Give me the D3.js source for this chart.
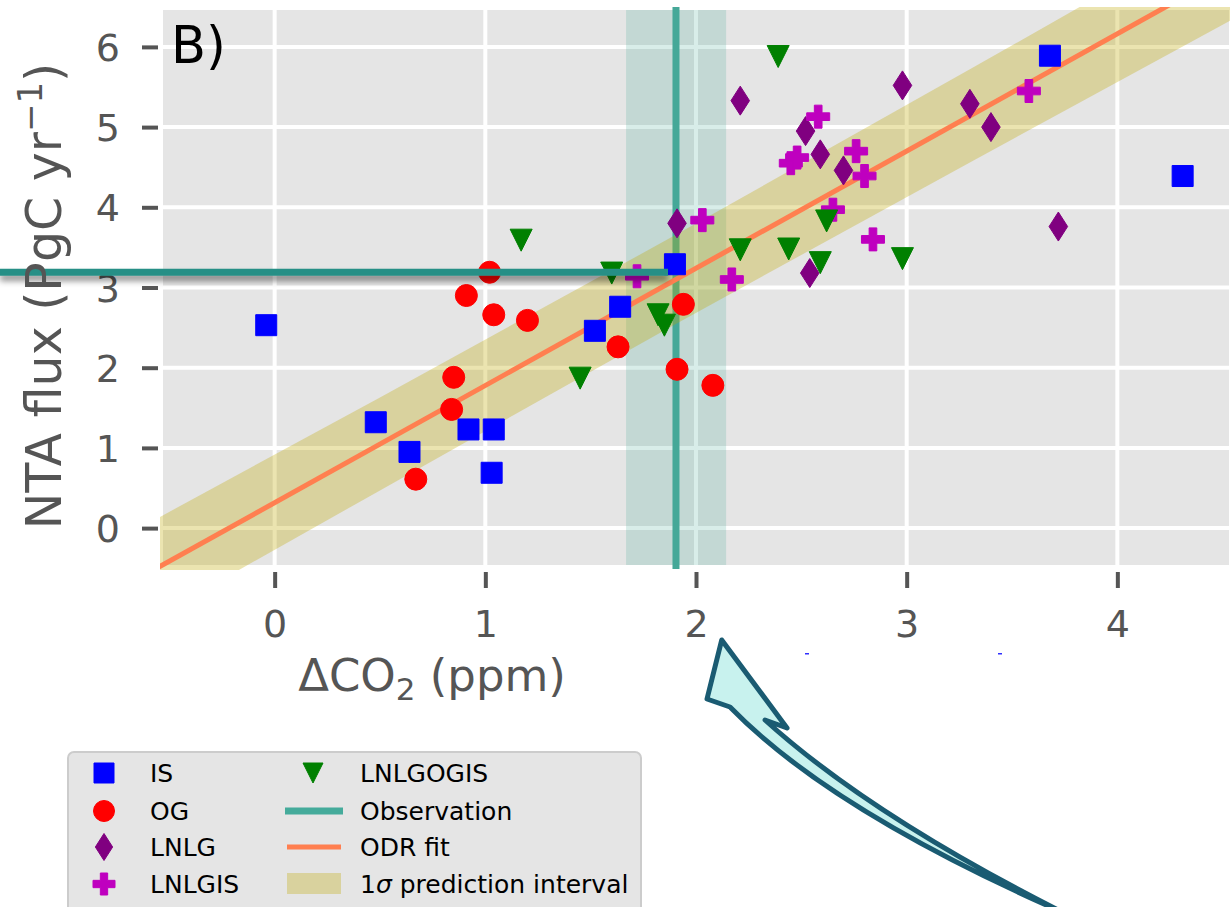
<!DOCTYPE html>
<html lang="en">
<head>
    <meta charset="UTF-8">
    <title>NTA flux vs delta CO2</title>
    <script src="https://d3js.org/d3.v7.min.js"></script>
    <style>
        body { margin: 0; background: #fff; }
        svg { display: block; font-family: "DejaVu Sans", sans-serif; }
    </style>
</head>
<body>
    <script>
        // data
        var xDomain = [-0.53, 4.53];
        var yDomain = [-0.46, 6.46];
        var xTicks = [0, 1, 2, 3, 4];
        var yTicks = [0, 1, 2, 3, 4, 5, 6];

        var isX = [-0.04, 0.48, 0.64, 0.92, 1.04, 1.03, 1.52, 1.64, 1.90, 3.68, 4.31];
        var isY = [2.53, 1.32, 0.95, 1.23, 1.23, 0.69, 2.46, 2.76, 3.29, 5.89, 4.39];

        var ogX = [0.91, 1.04, 1.20, 0.85, 0.84, 0.67, 1.63, 1.94, 1.91, 2.08, 1.02];
        var ogY = [2.90, 2.66, 2.59, 1.88, 1.48, 0.61, 2.26, 2.79, 1.98, 1.78, 3.19];

        var lnlgX = [2.21, 2.52, 2.59, 2.70, 2.98, 3.30, 3.40, 3.72, 1.91, 2.54];
        var lnlgY = [5.33, 4.95, 4.66, 4.46, 5.52, 5.29, 5.00, 3.76, 3.80, 3.18];

        var lnlgisX = [2.58, 2.45, 2.48, 2.76, 2.80, 2.65, 2.03, 2.84, 2.17, 1.72, 3.58];
        var lnlgisY = [5.13, 4.55, 4.62, 4.70, 4.39, 3.97, 3.84, 3.60, 3.10, 3.14, 5.45];

        var lnlgogisX = [2.39, 2.21, 2.44, 2.62, 2.59, 2.98, 1.60, 1.45, 1.82, 1.85, 1.17];
        var lnlgogisY = [5.88, 3.47, 3.48, 3.83, 3.31, 3.36, 3.18, 1.87, 2.66, 2.53, 3.59];

        // ODR fit and 1 sigma band
        var fitX = [-0.6, 4.6];
        var fitY = [-0.56, 7.04];
        var bandX = [-0.6, 0.5, 1.9, 3.3, 4.6];
        var bandLo = [-1.16, 0.47, 2.54, 4.56, 6.42];
        var bandHi = [0.06, 1.63, 3.65, 5.72, 7.66];

        // observation
        var obsX = 1.905;
        var obsXRange = [1.668, 2.143];
        var obsY = 3.19;

        var w = 1230, h = 907;
        var pLeft = 163, pRight = 1229, pTop = 10, pBottom = 565;

        var svg = d3.select("body").append("svg")
            .attr("width", w)
            .attr("height", h);

        var defs = svg.append("defs");
        defs.append("clipPath").attr("id", "clip")
            .append("rect")
            .attr("x", pLeft - 3).attr("y", pTop - 3)
            .attr("width", pRight - pLeft + 4).attr("height", pBottom - pTop + 8);
        var f = defs.append("filter").attr("id", "shadow")
            .attr("filterUnits", "userSpaceOnUse")
            .attr("x", -20).attr("y", 240).attr("width", 720).attr("height", 70);
        f.append("feDropShadow").attr("dx", 0).attr("dy", 5).attr("stdDeviation", 3)
            .attr("flood-color", "#000").attr("flood-opacity", 0.45);

        var x = d3.scaleLinear().domain(xDomain).range([pLeft, pRight]);
        var y = d3.scaleLinear().domain(yDomain).range([pBottom, pTop]);

        // plot background + grid
        svg.append("rect")
            .attr("x", pLeft).attr("y", pTop)
            .attr("width", pRight - pLeft).attr("height", pBottom - pTop)
            .attr("fill", "#e5e5e5");

        svg.selectAll(".gx").data(xTicks).enter().append("line")
            .attr("x1", d => x(d)).attr("x2", d => x(d))
            .attr("y1", pTop).attr("y2", pBottom)
            .attr("stroke", "#fff").attr("stroke-width", 4);
        svg.selectAll(".gy").data(yTicks).enter().append("line")
            .attr("x1", pLeft).attr("x2", pRight)
            .attr("y1", d => y(d)).attr("y2", d => y(d))
            .attr("stroke", "#fff").attr("stroke-width", 4);

        // axes
        var yAxis = svg.append("g")
            .attr("transform", "translate(158,0)")
            .call(d3.axisLeft(y).tickValues(yTicks).tickSize(16).tickPadding(22).tickFormat(d3.format("d")));
        var xAxis = svg.append("g")
            .attr("transform", "translate(0,572)")
            .call(d3.axisBottom(x).tickValues(xTicks).tickSize(16).tickFormat(d3.format("d")));
        [xAxis, yAxis].forEach(function(g) {
            g.select(".domain").remove();
            g.selectAll(".tick line").attr("stroke", "#555").attr("stroke-width", 4);
            g.selectAll(".tick text").attr("fill", "#555")
                .style("font-size", "38px").style("font-family", "DejaVu Sans");
        });
        xAxis.selectAll(".tick text").attr("y", 65).attr("dy", 0);
        yAxis.selectAll(".tick text").attr("dy", "0.36em");

        var plot = svg.append("g").attr("clip-path", "url(#clip)");

        // observation band and line
        plot.append("rect")
            .attr("x", x(obsXRange[0])).attr("y", pTop)
            .attr("width", x(obsXRange[1]) - x(obsXRange[0]))
            .attr("height", pBottom - pTop)
            .attr("fill", "#45a898").attr("fill-opacity", 0.21);
        plot.append("line")
            .attr("x1", x(obsX)).attr("x2", x(obsX))
            .attr("y1", pTop - 3).attr("y2", pBottom + 4)
            .attr("stroke", "#45a898").attr("stroke-width", 7);

        // prediction band
        var bandData = bandX.map((d, i) => ({x: d, lo: bandLo[i], hi: bandHi[i]}));
        plot.append("path")
            .datum(bandData)
            .attr("d", d3.area().x(d => x(d.x)).y0(d => y(d.lo)).y1(d => y(d.hi)))
            .attr("fill", "rgb(190,168,0)").attr("fill-opacity", 0.31);

        // fit line
        plot.append("path")
            .datum(fitX.map((d, i) => [d, fitY[i]]))
            .attr("d", d3.line().x(d => x(d[0])).y(d => y(d[1])))
            .attr("stroke", "#ff7f50").attr("stroke-width", 5).attr("fill", "none");

        // marker shapes
        function square(s) { var a = s / 2; return "M" + -a + "," + -a + "H" + a + "V" + a + "H" + -a + "Z"; }
        function circle(s) { var r = s / 2; return "M" + r + ",0A" + r + "," + r + " 0 1,1 " + -r + ",0A" + r + "," + r + " 0 1,1 " + r + ",0Z"; }
        function diamond(s) { var a = s * 0.32, b = s / 2; return "M0," + -b + "L" + a + ",0L0," + b + "L" + -a + ",0Z"; }
        function plus(s) {
            var a = s / 2, t = s / 6;
            return "M" + -t + "," + -a + "H" + t + "V" + -t + "H" + a + "V" + t + "H" + t + "V" + a +
                "H" + -t + "V" + t + "H" + -a + "V" + -t + "H" + -t + "Z";
        }
        function triDown(s) { var a = s / 2; return "M" + -a + "," + -a + "H" + a + "L0," + a + "Z"; }

        var series = [
            {name: "IS", xs: isX, ys: isY, color: "#0000ff", shape: square, size: 21},
            {name: "OG", xs: ogX, ys: ogY, color: "#ff0000", shape: circle, size: 22},
            {name: "LNLG", xs: lnlgX, ys: lnlgY, color: "#800080", shape: diamond, size: 29},
            {name: "LNLGIS", xs: lnlgisX, ys: lnlgisY, color: "#bf00bf", shape: plus, size: 23},
            {name: "LNLGOGIS", xs: lnlgogisX, ys: lnlgogisY, color: "#008000", shape: triDown, size: 22}
        ];

        series.forEach(function(s) {
            svg.append("g").selectAll("path")
                .data(s.xs.map((d, i) => [d, s.ys[i]]))
                .enter().append("path")
                .attr("transform", d => "translate(" + x(d[0]) + "," + y(d[1]) + ")")
                .attr("d", s.shape(s.size))
                .attr("fill", s.color)
                .attr("stroke", s.color).attr("stroke-width", 1)
                .attr("stroke-linejoin", "round");
        });

        // horizontal observation line reaching to the left edge (rect so the shadow filter has a box)
        svg.append("rect")
            .attr("x", 0).attr("y", y(obsY) - 3.5)
            .attr("width", x(obsX) - 8).attr("height", 7)
            .attr("fill", "#258f86")
            .attr("filter", "url(#shadow)");

        // panel label
        svg.append("text")
            .attr("x", 171).attr("y", 63)
            .style("font-size", "51px")
            .attr("fill", "#000")
            .text("B)");

        // axis labels
        var xl = svg.append("text")
            .attr("x", 432).attr("y", 691)
            .attr("text-anchor", "middle")
            .attr("fill", "#555")
            .style("font-size", "45px");
        xl.append("tspan").text("ΔCO");
        xl.append("tspan").attr("dy", 9).style("font-size", "31px").text("2");
        xl.append("tspan").attr("dy", -9).text(" (ppm)");

        var yl = svg.append("text")
            .attr("transform", "translate(61,296) rotate(-90)")
            .attr("text-anchor", "middle")
            .attr("fill", "#555")
            .style("font-size", "49px");
        yl.append("tspan").text("NTA flux (PgC yr");
        yl.append("tspan").attr("dy", -19).style("font-size", "34px").text("−1");
        yl.append("tspan").attr("dy", 19).text(")");

        // stray little marks below the axis
        svg.selectAll(".stray").data([807, 1000]).enter().append("rect")
            .attr("x", d => d - 2).attr("y", 653)
            .attr("width", 4).attr("height", 1.5)
            .attr("fill", "#3030ff");

        // legend
        var lg = svg.append("g");
        lg.append("rect")
            .attr("x", 68).attr("y", 752)
            .attr("width", 573).attr("height", 180)
            .attr("rx", 6)
            .attr("fill", "#e5e5e5").attr("stroke", "#cccccc").attr("stroke-width", 2);

        var rowY = [773, 811, 847, 884];
        series.slice(0, 4).forEach(function(s, i) {
            lg.append("path")
                .attr("transform", "translate(104," + rowY[i] + ")")
                .attr("d", s.shape(s.name === "LNLG" ? 27 : s.size - 1))
                .attr("fill", s.color).attr("stroke", s.color).attr("stroke-width", 1);
            lg.append("text")
                .attr("x", 150).attr("y", rowY[i] + 9)
                .style("font-size", "25px").attr("fill", "#000")
                .text(s.name);
        });

        var tri = series[4];
        lg.append("path")
            .attr("transform", "translate(313," + rowY[0] + ")")
            .attr("d", tri.shape(20))
            .attr("fill", tri.color).attr("stroke", tri.color).attr("stroke-width", 1);
        lg.append("line")
            .attr("x1", 285).attr("x2", 343).attr("y1", rowY[1]).attr("y2", rowY[1])
            .attr("stroke", "#45ab9b").attr("stroke-width", 7);
        lg.append("line")
            .attr("x1", 287).attr("x2", 341).attr("y1", rowY[2]).attr("y2", rowY[2])
            .attr("stroke", "#ff7f50").attr("stroke-width", 5);
        lg.append("rect")
            .attr("x", 287).attr("y", rowY[3] - 11).attr("width", 54).attr("height", 21)
            .attr("fill", "rgb(190,168,0)").attr("fill-opacity", 0.31);

        var col2 = ["LNLGOGIS", "Observation", "ODR fit"];
        col2.forEach(function(t, i) {
            lg.append("text")
                .attr("x", 360).attr("y", rowY[i] + 9)
                .style("font-size", "25px").attr("fill", "#000")
                .text(t);
        });
        var pi = lg.append("text")
            .attr("x", 360).attr("y", rowY[3] + 9)
            .style("font-size", "25px").attr("fill", "#000");
        pi.append("tspan").text("1");
        pi.append("tspan").style("font-style", "italic").text("σ");
        pi.append("tspan").text(" prediction interval");

        // callout arrow
        svg.append("path")
            .attr("d", "M721.7,640 L787,728 L765,720 Q870,815 1062,912 Q830,810 730,707 L707,699 Z")
            .attr("fill", "#c8f2ee")
            .attr("stroke", "#1a5b72").attr("stroke-width", 5)
            .attr("stroke-linejoin", "round");
    </script>
</body>
</html>
